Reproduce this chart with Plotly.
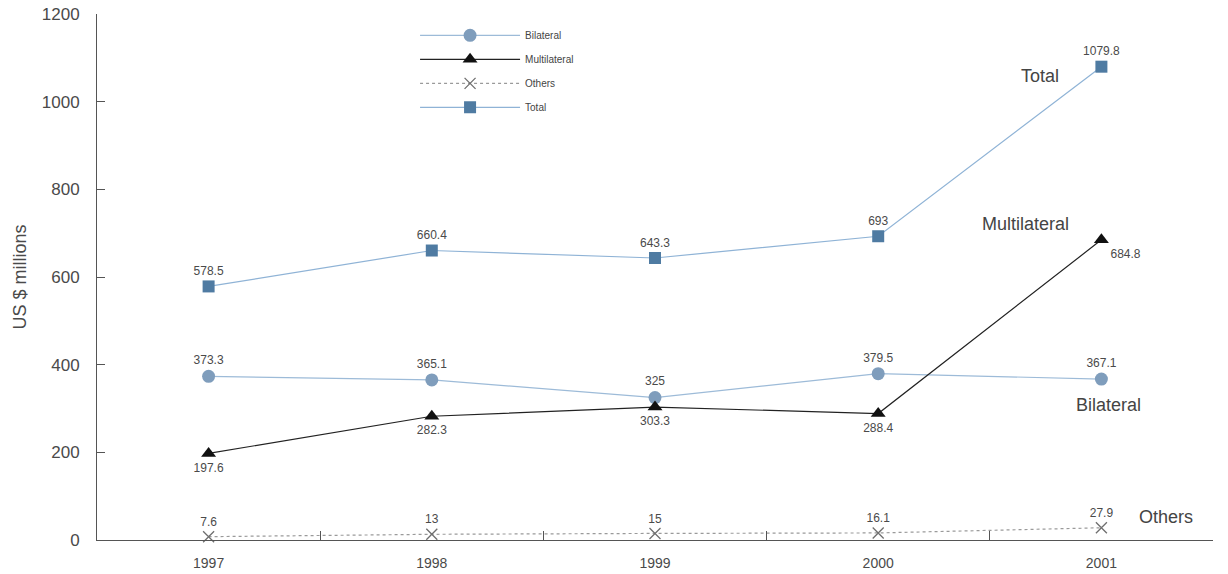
import plotly.graph_objects as go

years = ["1997", "1998", "1999", "2000", "2001"]
bilateral = [373.3, 365.1, 325, 379.5, 367.1]
multilateral = [197.6, 282.3, 303.3, 288.4, 684.8]
others = [7.6, 13, 15, 16.1, 27.9]
total = [578.5, 660.4, 643.3, 693, 1079.8]

FONT = "Liberation Sans, Arial, sans-serif"
TXT = "#4a4a4a"

def fmt(v):
    return f"{v:g}"

fig = go.Figure()

fig.add_trace(go.Scatter(
    x=years, y=bilateral, name="Bilateral", legendgroup="b", mode="lines+markers+text",
    line=dict(color="#9dbbd8", width=1.2),
    marker=dict(symbol="circle", size=13, color="#7f9dbc"),
    text=[fmt(v) for v in bilateral], textposition="top center",
    textfont=dict(size=12, color=TXT, family=FONT), cliponaxis=False,
))
fig.add_trace(go.Scatter(
    x=years, y=multilateral, name="Multilateral", legendgroup="m", mode="lines+markers+text",
    line=dict(color="#222222", width=1.2),
    marker=dict(symbol="triangle-up", size=13, color="#111111"),
    text=[fmt(v) for v in multilateral],
    textposition=["bottom center"] * 4 + ["bottom right"],
    textfont=dict(size=12, color=TXT, family=FONT), cliponaxis=False,
))
fig.add_trace(go.Scatter(
    x=years, y=others, name="Others", legendgroup="o", mode="lines+markers+text",
    line=dict(color="#9a9a9a", width=1.2, dash="dot"),
    marker=dict(symbol="x-thin", size=11, line=dict(color="#6f6f6f", width=1.3)),
    text=[fmt(v) for v in others], textposition="top center",
    textfont=dict(size=12, color=TXT, family=FONT), cliponaxis=False,
))
fig.add_trace(go.Scatter(
    x=years, y=total, name="Total", legendgroup="t", mode="lines+markers+text",
    line=dict(color="#8fb3d6", width=1.2),
    marker=dict(symbol="square", size=12, color="#4f7ba2"),
    text=[fmt(v) for v in total], textposition="top center",
    textfont=dict(size=12, color=TXT, family=FONT), cliponaxis=False,
))

# series names written next to the lines
series_notes = [
    ("Total", 3.725, 1058),
    ("Multilateral", 3.66, 721),
    ("Bilateral", 4.03, 307),
    ("Others", 4.29, 53),
]
for label, xpos, ypos in series_notes:
    fig.add_annotation(
        x=xpos, y=ypos, xref="x", yref="y", text=label, showarrow=False,
        font=dict(size=18, color="#444444", family=FONT),
    )

fig.update_layout(
    width=1228, height=574,
    margin=dict(l=97, r=15, t=14, b=34),
    paper_bgcolor="white", plot_bgcolor="white",
    font=dict(family=FONT, color=TXT),
    showlegend=True,
    legend=dict(
        x=0.285, y=0.987, xanchor="left", yanchor="top",
        font=dict(size=10, color="#444444", family=FONT),
        bgcolor="rgba(0,0,0,0)", itemwidth=100, tracegroupgap=5,
    ),
    xaxis=dict(
        type="category", range=[-0.5, 4.5], automargin=False,
        showline=True, linecolor="#555555", linewidth=1,
        showgrid=False, zeroline=False,
        tickson="boundaries", ticks="inside", ticklen=9,
        tickcolor="#555555", ticklabelstandoff=10,
        tickfont=dict(size=14, color=TXT, family=FONT),
    ),
    yaxis=dict(
        range=[0, 1200], tickvals=[0, 200, 400, 600, 800, 1000, 1200],
        automargin=False,
        showline=True, linecolor="#555555", linewidth=1,
        showgrid=False, zeroline=False,
        ticks="inside", ticklen=8, tickcolor="#555555",
        ticklabelstandoff=13,
        tickfont=dict(size=17, color=TXT, family=FONT),
        title=dict(text="US $ millions", font=dict(size=18, color=TXT, family=FONT),
                   standoff=10),
    ),
)

fig.write_html("out.html")
